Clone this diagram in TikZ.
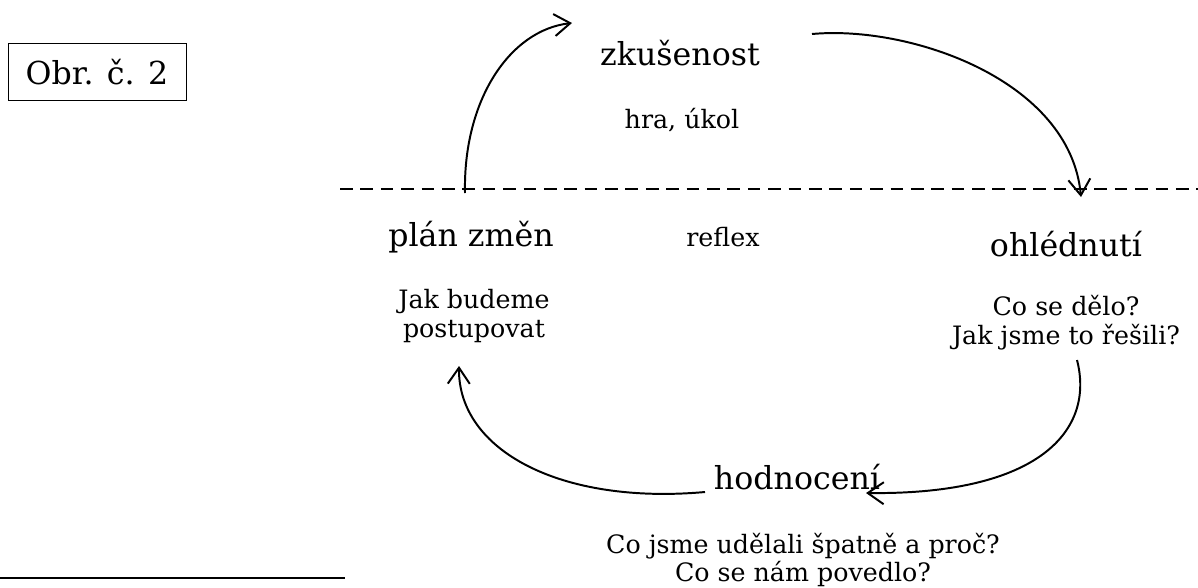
\documentclass[tikz,border=0pt]{standalone}
\usepackage{fontspec}
\setmainfont{DejaVu Serif}
\usetikzlibrary{arrows.meta}

\begin{document}
\begin{tikzpicture}[x=0.025cm,y=-0.025cm]
        \tikzstyle{big} = [font=\fontsize{22.5}{26}\selectfont, inner sep=0pt]
        \tikzstyle{small} = [font=\fontsize{18}{20.5}\selectfont, inner sep=0pt, align=center]
        \tikzstyle{cycle} = [line width=1.4pt, -{Straight Barb[length=4mm,width=5.5mm,line width=1.4pt]}]

        \useasboundingbox (0,0) rectangle (1198,587);

        \node[big, draw, line width=0.6pt, minimum width=4.45cm, minimum height=1.43cm] (obr) at (97,72) {Obr. č. 2};

        \node[big] (zkus) at (680,53) {zkušenost};
        \node[small] (hra) at (682,120) {hra, úkol};
        \node[big] (plan) at (471,237) {plán změn};
        \node[small] (reflex) at (723,237) {reflex};
        \node[big] (ohled) at (1066,244) {ohlédnutí};
        \node[small] (jak) at (474,316) {Jak budeme\\postupovat};
        \node[small] (delo) at (1066,323) {Co se dělo?\\Jak jsme to řešili?};
        \node[big] (hodn) at (797,477) {hodnocení};
        \node[small] (proc) at (803,560) {Co jsme udělali špatně a proč?\\Co se nám povedlo?};

        % dělicí čáry
        \coordinate (dl) at (340,189);
        \coordinate (dr) at (1198,189);
        \draw[line width=1.3pt, dash pattern=on 9pt off 5.5pt] (dl) -- (dr);
        \coordinate (ll) at (0,578);
        \coordinate (lr) at (345,578);
        \draw[line width=2pt] (ll) -- (lr);

        % cyklus
        \coordinate (a1) at (465,193);
        \coordinate (a2) at (572,23);
        \coordinate (b1) at (812,34);
        \coordinate (b2) at (1081,197);
        \coordinate (c1) at (1077,360);
        \coordinate (c2) at (866,493);
        \coordinate (d1) at (705,492);
        \coordinate (d2) at (459,366);
        \draw[cycle] (a1) .. controls (463,100) and (510,30) .. (a2);
        \draw[cycle] (b1) .. controls (910,25) and (1070,80) .. (b2);
        \draw[cycle] (c1) .. controls (1095,430) and (1040,495) .. (c2);
        \draw[cycle] (d1) .. controls (560,505) and (458,450) .. (d2);
\end{tikzpicture}
\end{document}
